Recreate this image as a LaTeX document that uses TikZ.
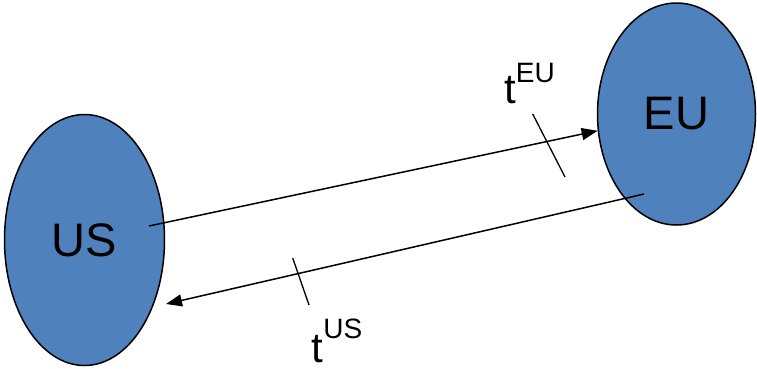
\documentclass[tikz,border=0pt]{standalone}
\usepackage{fontspec}
\setmainfont{Liberation Sans}
\usetikzlibrary{arrows.meta,shapes.geometric}
\definecolor{blobblue}{HTML}{4F81BD}
\tikzset{
  blob/.style={ellipse, draw=black, line width=1.5pt, fill=blobblue, inner sep=0pt,
    font=\fontsize{47}{47}\selectfont},
  flow/.style={line width=1.5pt, -{Triangle[length=16pt,width=12pt]}},
  tick/.style={line width=1.3pt},
  tlabel/.style={anchor=base west, inner sep=0pt, font=\fontsize{42}{42}\selectfont}
}
\begin{document}
\begin{tikzpicture}[x=1pt,y=-1pt]
\useasboundingbox (0,0) rectangle (757,368);
\node[blob, minimum width=160pt, minimum height=251pt] (US) at (84.5,240) {US};
\node[blob, minimum width=158pt, minimum height=222pt] (EU) at (676.5,114) {EU};
\coordinate (a1s) at (149,226);
\coordinate (a2s) at (644,194);
\coordinate (a2e) at (166,304);
\draw[flow] (a1s) -- (EU);
\draw[flow] (a2s) -- (a2e);
\coordinate (k1a) at (532.7,114);
\coordinate (k1b) at (565,177);
\coordinate (k2a) at (292.7,258);
\coordinate (k2b) at (309,305);
\draw[tick] (k1a) -- (k1b);
\draw[tick] (k2a) -- (k2b);
\node[tlabel] (tEU) at (504,103) {t\raisebox{21pt}{\fontsize{28}{28}\selectfont EU}};
\node[tlabel] (tUS) at (311.5,362) {t\raisebox{24pt}{\fontsize{28}{28}\selectfont US}};
\end{tikzpicture}
\end{document}
